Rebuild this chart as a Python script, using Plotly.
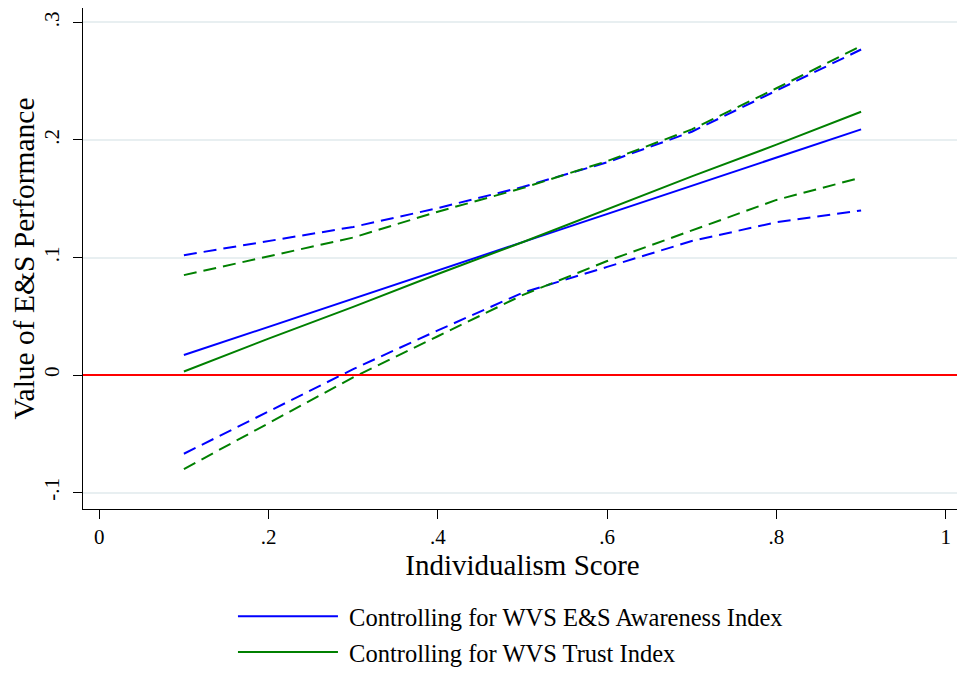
import plotly.graph_objects as go

x_vals = [0.1, 0.2, 0.3, 0.4, 0.5, 0.6, 0.7, 0.8, 0.9]

# Controlling for WVS E&S Awareness Index (blue)
aware_est = [0.017, 0.041, 0.065, 0.089, 0.113, 0.137, 0.161, 0.185, 0.209]
aware_hi = [0.102, 0.114, 0.126, 0.142, 0.160, 0.181, 0.207, 0.242, 0.277]
aware_lo = [-0.067, -0.031, 0.005, 0.038, 0.070, 0.092, 0.114, 0.130, 0.140]

# Controlling for WVS Trust Index (green)
trust_est = [0.003, 0.031, 0.058, 0.086, 0.113, 0.141, 0.169, 0.196, 0.224]
trust_hi = [0.085, 0.101, 0.117, 0.139, 0.159, 0.182, 0.209, 0.244, 0.280]
trust_lo = [-0.080, -0.041, -0.002, 0.033, 0.068, 0.097, 0.123, 0.149, 0.168]

x_ticks = [0, 0.2, 0.4, 0.6, 0.8, 1]
x_ticktext = ["0", ".2", ".4", ".6", ".8", "1"]
y_ticks = [-0.1, 0, 0.1, 0.2, 0.3]
y_ticktext = ["-.1", "0", ".1", ".2", ".3"]

BLUE = "#0000FF"
GREEN = "#008000"
FONT = "Liberation Serif"
DASH = "13px,7px"

fig = go.Figure()

fig.add_trace(go.Scatter(x=x_vals, y=aware_est, mode="lines",
                         line=dict(color=BLUE, width=2), legendgroup="a",
                         name=" Controlling for WVS E&S Awareness Index"))
fig.add_trace(go.Scatter(x=x_vals, y=trust_est, mode="lines",
                         line=dict(color=GREEN, width=2), legendgroup="b",
                         name=" Controlling for WVS Trust Index"))
for ys, c in [(aware_hi, BLUE), (aware_lo, BLUE), (trust_hi, GREEN), (trust_lo, GREEN)]:
    fig.add_trace(go.Scatter(x=x_vals, y=ys, mode="lines",
                             line=dict(color=c, width=2, dash=DASH),
                             showlegend=False, hoverinfo="skip"))

fig.add_shape(type="line", xref="x domain", yref="y", x0=0, x1=1, y0=0, y1=0,
              line=dict(color="#FF0000", width=2))

# the page body adds an 8px offset, so the figure is 8px smaller on each axis
fig.update_layout(
    width=957, height=667,
    margin=dict(l=75, r=3, t=0, b=166),
    paper_bgcolor="white", plot_bgcolor="white",
    font=dict(family=FONT, color="black", size=21),
    xaxis=dict(range=[-0.0192, 1.0192], tickvals=x_ticks, ticktext=x_ticktext,
               ticks="outside", ticklen=9, tickcolor="black", tickwidth=1,
               showline=True, linecolor="black", linewidth=1.2,
               showgrid=False, zeroline=False, automargin=False,
               tickfont=dict(size=21),
               title=dict(text="Individualism Score", font=dict(size=29), standoff=6)),
    yaxis=dict(range=[-0.114, 0.3123], tickvals=y_ticks, ticktext=y_ticktext,
               ticks="outside", ticklen=9, tickcolor="black", tickwidth=1,
               showline=True, linecolor="black", linewidth=1.2,
               showgrid=True, gridcolor="#e8eff1", gridwidth=1.5,
               zeroline=False, tickangle=-90, automargin=False,
               tickfont=dict(size=21), ticklabelstandoff=6,
               title=dict(text="Value of E&S Performance", font=dict(size=29.5), standoff=0)),
    legend=dict(x=0.1706, y=-0.331, xanchor="left", yanchor="bottom",
                orientation="v", itemwidth=100, font=dict(size=24.5),
                bgcolor="rgba(0,0,0,0)", tracegroupgap=1),
    showlegend=True,
)

fig.write_html("out.html")
